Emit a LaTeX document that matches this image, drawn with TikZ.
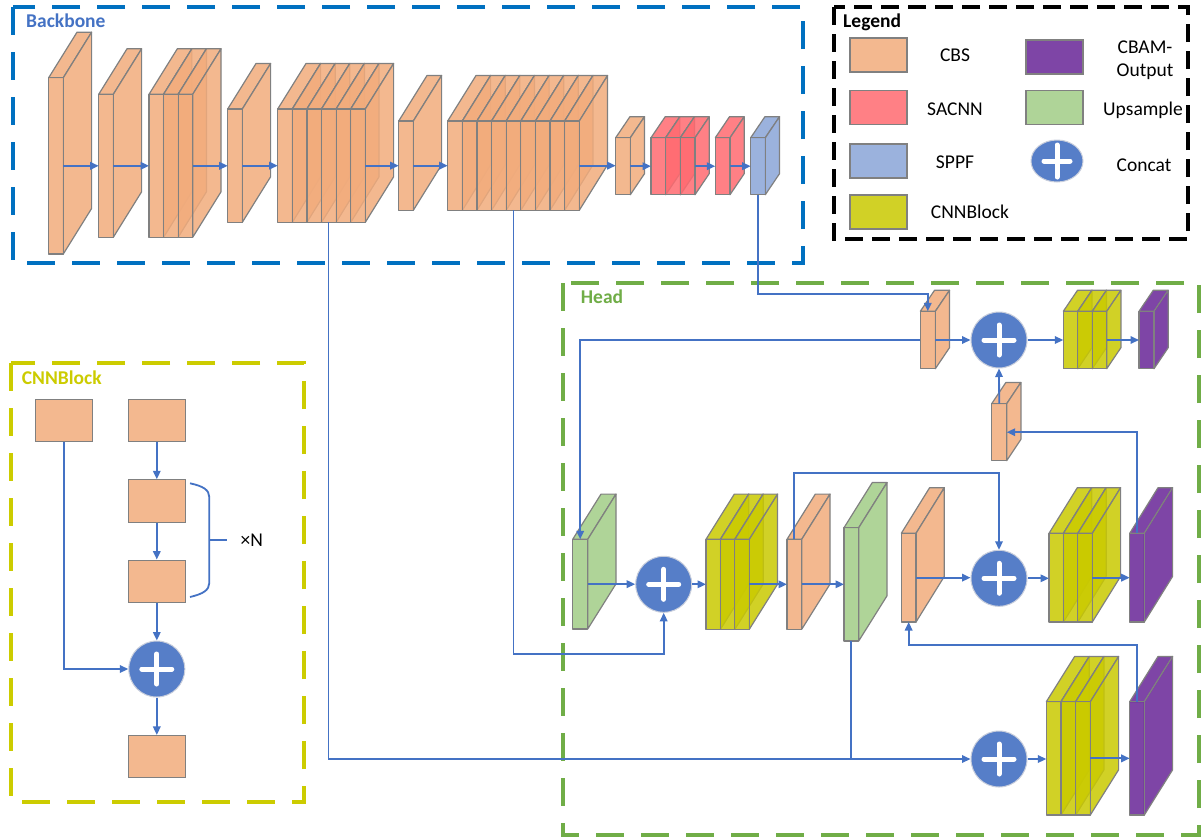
\documentclass[tikz,border=0pt]{standalone}
\usepackage{fontspec}
\setmainfont{Carlito}
\usetikzlibrary{arrows.meta,calc,shapes.geometric}

\definecolor{cbs}{RGB}{242,172,124}
\definecolor{sacnn}{RGB}{255,106,112}
\definecolor{sppf}{RGB}{138,165,216}
\definecolor{cnnb}{RGB}{202,202,0}
\definecolor{cbam}{RGB}{104,37,151}
\definecolor{upsm}{RGB}{161,205,135}
\definecolor{lineblue}{RGB}{68,114,196}
\definecolor{edgegray}{RGB}{128,128,128}
\definecolor{bbblue}{RGB}{0,112,192}
\definecolor{headgreen}{RGB}{112,173,71}
\definecolor{cnnyellow}{RGB}{204,204,0}
\definecolor{catblue}{RGB}{86,126,200}
\definecolor{catrim}{RGB}{200,206,220}

\newcommand\blk[9]{%
  \foreach \i in {1,...,#6}{%
    \pgfmathsetmacro\bxa{#2+(\i-1)*#4}%
    \pgfmathsetmacro\bxb{\bxa+#4}%
    \filldraw[slabface=#9] (\bxa,#3) -- (\bxa+#7,#3-#8) -- (\bxb+#7,#3-#8) -- (\bxb,#3) -- cycle;
    \filldraw[slabface=#9] (\bxb,#3) -- (\bxb+#7,#3-#8) -- (\bxb+#7,#3+#5-#8) -- (\bxb,#3+#5) -- cycle;
    \filldraw[slabface=#9] (\bxa,#3) rectangle (\bxb,#3+#5);
  }%
  \pgfmathsetmacro\blkwd{#6*#4}%
  \node[anchor=north west, inner sep=0pt, outer sep=0pt, minimum width=\blkwd pt, minimum height=#5 pt] (#1) at (#2,#3) {};%
}
\newcommand\concat[3]{%
  \node[catnode] (#1) at (#2,#3) {};
  \draw[plussign] ($(#1)+(-15,0)$) -- ($(#1)+(15,0)$) ($(#1)+(0,-15)$) -- ($(#1)+(0,15)$);%
}

\begin{document}
\begin{tikzpicture}[x=1pt,y=-1pt,
  slabface/.style={fill=#1, fill opacity=.85, draw=edgegray, line width=1.2pt, line join=round},
  arr/.style={draw=lineblue, line width=1.8pt, -{Triangle[length=8.5pt,width=7.5pt]}},
  ln/.style={draw=lineblue, line width=1.8pt},
  frame/.style={line width=3.3pt, dash pattern=on 28pt off 17pt},
  legframe/.style={draw=black, line width=3.3pt, dash pattern=on 18pt off 9pt},
  catnode/.style={circle, fill=catblue, draw=catrim, line width=1pt, minimum size=56pt, inner sep=0pt},
  plussign/.style={white, line width=5pt, line cap=round},
  lbl/.style={font=\fontsize{19.5}{23}\selectfont, inner sep=0pt},
  swatch/.style={draw=edgegray, line width=1.2pt, fill opacity=.85, minimum width=57pt, minimum height=34pt, inner sep=0pt},
  cbox/.style={draw=edgegray, line width=1.2pt, fill=cbs, fill opacity=.85, minimum width=57pt, minimum height=42.3pt, inner sep=0pt}
]
\useasboundingbox (0,0) rectangle (1202,839);
\fill[white] (0,0) rectangle (1202,839);

% frames
\draw[frame, bbblue] (13,7) rectangle (803,263);
\draw[frame, headgreen] (563,283) rectangle (1199,835);
\draw[frame, cnnyellow] (11,363) rectangle (304,802);
\draw[legframe] (834,7) rectangle (1188,239);

% titles
\node[lbl, anchor=base west, text=lineblue] (tbb) at (26,27.3) {\bfseries Backbone};
\node[lbl, anchor=base west, text=headgreen] (thd) at (580.7,303.3) {\bfseries Head};
\node[lbl, anchor=base west, text=cnnyellow] (tcb) at (21.7,384.3) {\bfseries CNNBlock};
\node[lbl, anchor=base west] (tlg) at (843,27.3) {\bfseries Legend};

% legend
\node[swatch, fill=cbs] (sw1) at (878.5,55) {};
\node[swatch, fill=sacnn] (sw2) at (878.5,107.5) {};
\node[swatch, fill=sppf] (sw3) at (878.5,161) {};
\node[swatch, fill=cnnb] (sw4) at (878.5,212) {};
\node[swatch, fill=cbam] (sw5) at (1054.5,57) {};
\node[swatch, fill=upsm] (sw6) at (1054.5,107.5) {};
\node[ellipse, fill=catblue, draw=catrim, line width=1pt, minimum width=52pt, minimum height=42pt, inner sep=0pt] (swc) at (1057,161) {};
\draw[plussign] ($(swc)+(-13,0)$) -- ($(swc)+(13,0)$) ($(swc)+(0,-16)$) -- ($(swc)+(0,16)$);
\node[lbl, anchor=base] (l1) at (955,61.7) {CBS};
\node[lbl, anchor=base] (l2) at (955,115) {SACNN};
\node[lbl, anchor=base] (l3) at (955,168.3) {SPPF};
\node[lbl, anchor=base] (l4) at (970,218.3) {CNNBlock};
\node[lbl, anchor=base] (l5a) at (1145,53.3) {CBAM-};
\node[lbl, anchor=base] (l5b) at (1145,76.7) {Output};
\node[lbl, anchor=base] (l6) at (1143,115) {Upsample};
\node[lbl, anchor=base] (l7) at (1144,171) {Concat};

% backbone blocks
\blk{b1}{48.7}{77.7}{14.6}{176.3}{1}{28.3}{45.5}{cbs}
\blk{b2}{98.7}{94.3}{14.6}{143}{1}{28.3}{45.5}{cbs}
\blk{b3}{149}{94.3}{14.57}{143}{3}{28.3}{45.5}{cbs}
\blk{b4}{227.7}{109}{14.6}{113.3}{1}{28.3}{45.5}{cbs}
\blk{b5}{277.7}{109}{14.6}{113.3}{6}{28.3}{45.5}{cbs}
\blk{b6}{398.7}{121}{14.6}{89.3}{1}{28.3}{45.5}{cbs}
\blk{b7}{447.7}{121}{14.62}{89.3}{9}{28.3}{45.5}{cbs}
\blk{b8}{615.7}{137.7}{14.6}{57}{1}{14.2}{21}{cbs}
\blk{b9}{651}{137.7}{14.67}{57}{3}{14.2}{21}{sacnn}
\blk{b10}{715.3}{137.7}{14.7}{57}{1}{14.2}{21}{sacnn}
\blk{b11}{750.7}{137.7}{14.6}{57}{1}{14.2}{21}{sppf}

\foreach \a/\b in {b1/b2,b2/b3,b3/b4,b4/b5,b5/b6,b6/b7,b7/b8,b8/b9,b9/b10,b10/b11}{
  \draw[arr] (\a.east) -- (\a.east -| \b.west);
}

% head blocks
\blk{cA}{920.3}{311.3}{15}{57.4}{1}{14.2}{21}{cbs}
\blk{yT}{1063.3}{311.3}{14.47}{57.4}{3}{14.2}{21}{cnnb}
\blk{pT}{1139}{311.3}{15}{57.4}{1}{14.2}{21}{cbam}
\blk{cB}{991.7}{403.7}{15}{57}{1}{14.2}{21.3}{cbs}
\blk{u1}{572.7}{539.3}{15}{89.7}{1}{28.3}{45.2}{upsm}
\blk{y1}{706}{539.3}{14.43}{90}{3}{28.3}{45.2}{cnnb}
\blk{cC}{787}{539.3}{14.7}{90}{1}{28.3}{45.2}{cbs}
\blk{u2}{844}{527.7}{14.7}{113.3}{1}{28.3}{45.2}{upsm}
\blk{cD}{901.3}{533.3}{14.7}{88.7}{1}{28.3}{45.6}{cbs}
\blk{y2}{1049}{533.3}{14.43}{88.7}{3}{28.3}{45.6}{cnnb}
\blk{pM}{1129.7}{533.3}{14.6}{88.7}{1}{28.3}{45.6}{cbam}
\blk{y3}{1046.3}{701.7}{14.67}{113.3}{3}{28.3}{45.2}{cnnb}
\blk{pB}{1129.7}{701.7}{14.6}{113.3}{1}{28.3}{45.2}{cbam}

% concat nodes
\concat{catT}{999}{340}
\concat{catL}{663.7}{584.3}
\concat{catM}{999}{578.3}
\concat{catB}{999}{759}

% backbone to head connectors
\draw[arr] ($(b5.south west)+(50.8,0)$) |- (catB.west);
\draw[arr] (b7.south) -- ++(0,443.7) -| (catL.south);
\draw[arr] (b11.south) |- ($(cA.north)+(0,-17)$) -- (cA.north);

% head connectors
\draw[arr] (cA.west) -| (u1.north);
\draw[arr] (cA.east) -- (cA.east -| catT.west);
\draw[arr] (catT.east) -- (catT.east -| yT.west);
\draw[arr] (yT.east) -- (yT.east -| pT.west);
\draw[arr] (cB.north) -- (catT.south);
\draw[arr] (pM.north) |- (cB.east);
\draw[arr] (u1.east) -- (u1.east -| catL.west);
\draw[arr] (catL.east) -- (catL.east -| y1.west);
\draw[arr] (y1.east) -- (y1.east -| cC.west);
\draw[arr] (cC.east) -- (cC.east -| u2.west);
\draw[arr] (cC.north) -- ++(0,-66) -| (catM.north);
\draw[arr] (cD.east) -- (cD.east -| catM.west);
\draw[arr] (catM.east) -- (catM.east -| y2.west);
\draw[arr] (y2.east) -- (y2.east -| pM.west);
\draw[arr] (pB.north) -- ++(0,-56.7) -| (cD.south);
\draw[ln] (u2.south) -- (u2.south |- catB.west);
\draw[arr] (catB.east) -- (catB.east -| y3.west);
\draw[arr] (y3.east) -- (y3.east -| pB.west);

% CNNBlock detail
\node[cbox] (n1) at (63.8,420.5) {};
\node[cbox] (n2) at (156.8,420.5) {};
\node[cbox] (n3) at (156.8,501) {};
\node[cbox] (n4) at (156.8,581.3) {};
\node[cbox] (n5) at (156.8,756.7) {};
\concat{catC}{156.8}{669}
\draw[arr] (n2.south) -- (n3.north);
\draw[arr] (n3.south) -- (n4.north);
\draw[arr] (n4.south) -- (catC.north);
\draw[arr] (catC.south) -- (n5.north);
\draw[arr] (n1.south) |- (catC.west);
\draw[ln] (190,483.3) .. controls (203,486) and (209.3,490) .. (209.3,497) -- (209.3,583) .. controls (209.3,590) and (203,594) .. (190,597);
\coordinate (brm) at (209.3,540);
\node[lbl, anchor=base] (xn) at (251.7,546) {×N};
\draw[ln] (brm) -- ++(17.4,0);
\end{tikzpicture}
\end{document}
